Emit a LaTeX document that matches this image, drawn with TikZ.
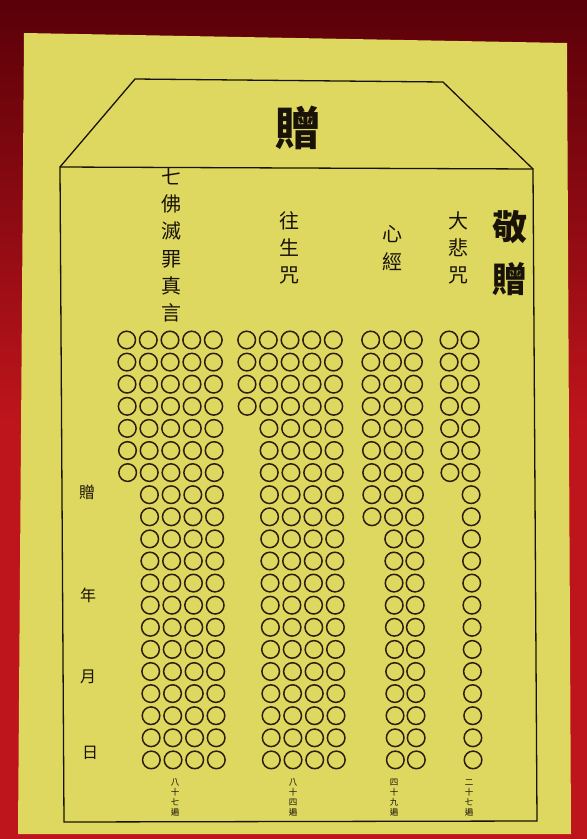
\documentclass[tikz,border=0pt]{standalone}
\usepackage{fontspec}
\newfontfamily\cjk{Noto Sans CJK TC}
\definecolor{paper}{RGB}{222,216,96}
\definecolor{redbg}{RGB}{190,20,28}
\definecolor{redtop}{RGB}{90,0,8}
\definecolor{inkc}{RGB}{45,30,12}
\definecolor{txt}{RGB}{25,18,8}
\begin{document}
\begin{tikzpicture}[x=1pt,y=-1pt,
  circ/.style={draw=inkc, line width=1.5pt},
  frame/.style={draw=txt, line width=1.3pt, line join=miter},
  hdr/.style={font=\cjk\fontsize{20}{27.3}\selectfont, align=center, inner sep=0pt, text=txt},
  big/.style={font=\cjk\bfseries\fontsize{35}{52}\selectfont, align=center, inner sep=0pt, text=txt},
  side/.style={font=\cjk\fontsize{16}{16}\selectfont, inner sep=0pt, text=txt},
  small/.style={font=\cjk\fontsize{8.5}{10}\selectfont, align=center, inner sep=0pt, text=txt}]
\useasboundingbox (0,0) rectangle (587,839);
\shade[top color=redtop, bottom color=redbg, middle color=redbg] (0,0) rectangle (587,839);
\fill[paper] (24,33) -- (567,43) -- (571,834) -- (18,834) -- cycle;
% frame
\draw[frame] (60,167) -- (135,79) -- (443,82) -- (533,169);
\draw[frame] (60,167) -- (533,169) -- (537,821) -- (64,822) -- cycle;
% title
\node[text=txt, inner sep=0pt, font=\cjk\bfseries\fontsize{46}{46}\selectfont] (title) at (298,128) {贈};
% headers
\node[hdr] (h1) at (171,245) {七\\佛\\滅\\罪\\真\\言};
\node[hdr] (h2) at (289,248) {往\\生\\咒};
\node[hdr] (h3) at (392,248) {心\\經};
\node[hdr] (h4) at (458,248) {大\\悲\\咒};
\node[big] (h5) at (510,253) {敬\\贈};
% left labels
\node[side] (l1) at (87,492) {贈};
\node[side] (l2) at (88,595) {年};
\node[side] (l3) at (88,677) {月};
\node[side] (l4) at (90,753) {日};
% bottom labels
\node[small] (b1) at (175,798) {八\\十\\七\\遍};
\node[small] (b2) at (293,798) {八\\十\\四\\遍};
\node[small] (b3) at (394,798) {四\\十\\九\\遍};
\node[small] (b4) at (469,798) {二\\十\\七\\遍};
% circles group 1
\foreach \k in {0,...,6} \foreach \c in {126.7,148.3,170,191.7,213.3}
  \draw[circ] ({\c+0.16*\k},{340+22.1*\k}) circle (8.8);
\foreach \k in {7,...,19} \foreach \c in {148.3,170,191.7,213.3}
  \draw[circ] ({\c+0.16*\k},{340+22.1*\k}) circle (8.8);
% group 2
\foreach \k in {0,...,3} \foreach \c in {246.7,268.3,290,311.7,333.3}
  \draw[circ] ({\c+0.16*\k},{340+22.1*\k}) circle (8.8);
\foreach \k in {4,...,19} \foreach \c in {268.3,290,311.7,333.3}
  \draw[circ] ({\c+0.16*\k},{340+22.1*\k}) circle (8.8);
% group 3
\foreach \k in {0,...,8} \foreach \c in {370.7,392.3,413.3}
  \draw[circ] ({\c+0.16*\k},{340+22.1*\k}) circle (8.8);
\foreach \k in {9,...,19} \foreach \c in {392.3,413.3}
  \draw[circ] ({\c+0.16*\k},{340+22.1*\k}) circle (8.8);
% group 4
\foreach \k in {0,...,6} \foreach \c in {449,470}
  \draw[circ] ({\c+0.16*\k},{340+22.1*\k}) circle (8.8);
\foreach \k in {7,...,19} \foreach \c in {470}
  \draw[circ] ({\c+0.16*\k},{340+22.1*\k}) circle (8.8);
\end{tikzpicture}
\end{document}
